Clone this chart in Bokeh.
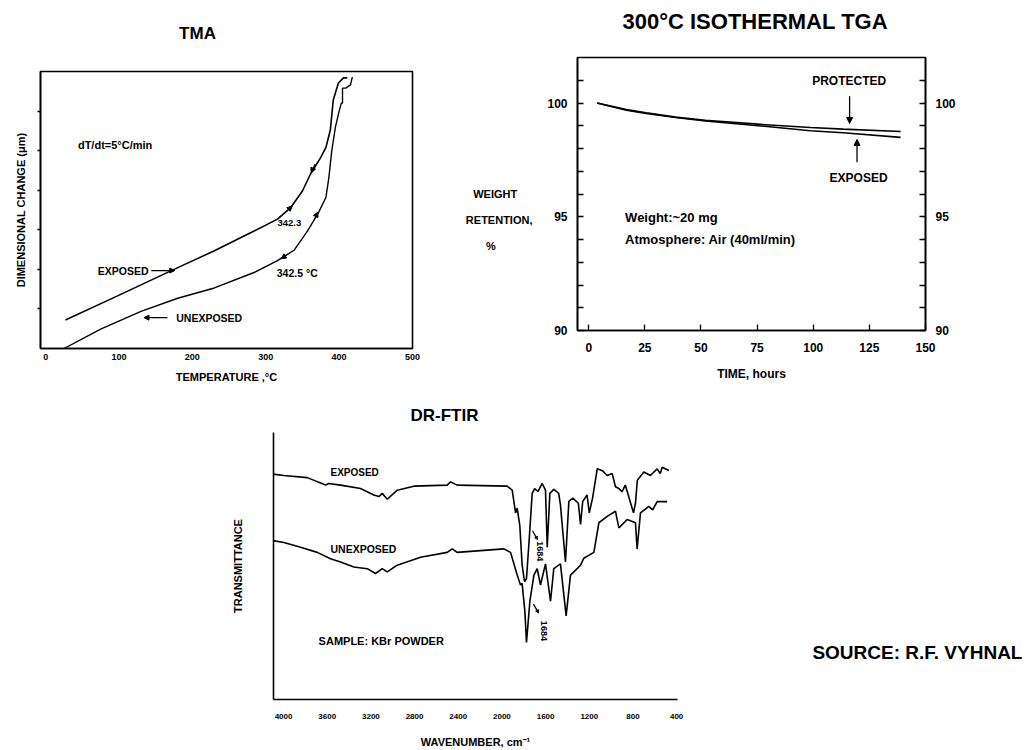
import math
from bokeh.plotting import figure
from bokeh.layouts import column, row
from bokeh.models import (Range1d, LinearAxis, FixedTicker, Label, Arrow,
                          NormalHead, Spacer)
from bokeh.embed import file_html
from bokeh.resources import INLINE

FONT = "Liberation Sans"
NB = "\u00a0"

# ---------------- TMA data ----------------
tma_exp_T = [27, 98, 175, 230, 280, 316, 334, 350, 361, 375, 382, 388, 392, 399, 406, 411]
tma_exp_v = [0.72, 1.33, 2.00, 2.47, 2.93, 3.27, 3.56, 3.98, 4.41, 4.83, 5.08, 5.52, 6.28, 6.71, 6.84, 6.84]
tma_unexp_T = [25, 75, 130, 180, 230, 284, 316, 339, 357, 371, 382, 386, 390, 395, 400, 403, 404.6, 404.6, 409, 415.5, 418]
tma_unexp_v = [0.00, 0.49, 0.94, 1.27, 1.53, 1.92, 2.22, 2.49, 2.97, 3.40, 3.82, 4.32, 5.00, 5.60, 6.00, 6.20, 6.20, 6.58, 6.58, 6.66, 6.86]
tma_xticks = [0, 100, 200, 300, 400, 500]
tma_yticks = [1, 2, 3, 4, 5, 6]

# ---------------- TGA data ----------------
tga_prot_t = [3.7, 16.8, 25.6, 38.7, 51.9, 76.8, 98.7, 113.3, 138.9]
tga_prot_w = [100.0, 99.71, 99.57, 99.38, 99.24, 99.06, 98.92, 98.85, 98.75]
tga_exp_t = [3.7, 16.8, 25.6, 38.7, 51.9, 76.8, 98.7, 113.3, 138.9]
tga_exp_w = [100.0, 99.68, 99.54, 99.36, 99.21, 98.99, 98.78, 98.69, 98.49]
tga_xticks = [0, 25, 50, 75, 100, 125, 150]
tga_yticks = [90, 95, 100]
tga_yminor = [91, 92, 93, 94, 96, 97, 98, 99, 101]

# ---------------- FTIR data ----------------
ir_exp_wn = [4135, 3997, 3783, 3615, 3587, 3478, 3295, 3173, 3127, 3096, 3050, 2959, 2807,
             2501, 2471, 2410, 1952, 1906, 1875, 1860, 1836, 1815, 1793, 1775, 1750, 1723,
             1700, 1670, 1631, 1601, 1585, 1561, 1525, 1480, 1464, 1418, 1387, 1350, 1300,
             1280, 1260, 1240, 1220, 1200, 1170, 1127, 1080, 1036, 990, 960, 929, 900, 870,
             795, 777, 760, 700, 640, 578, 550, 532, 471]
ir_exp_T = [84.6, 83.9, 83.1, 80.3, 80.9, 80.3, 79.0, 76.6, 76.0, 77.2, 75.0, 78.4, 79.9,
            80.3, 81.5, 80.3, 79.9, 78.4, 69.9, 71.7, 65.0, 50.4, 44.1, 45.3, 60.0, 77.2,
            79.0, 77.9, 80.9, 78.4, 57.0, 77.2, 78.7, 77.2, 72.9, 51.5, 74.2, 75.4, 73.5,
            65.6, 74.2, 75.4, 76.6, 69.9, 75.4, 86.4, 85.7, 83.9, 84.6, 79.7, 79.0, 77.8, 80.3,
            69.9, 73.5, 82.1, 85.2, 83.9, 86.4, 84.6, 87.0, 85.8]
ir_unexp_wn = [4135, 3997, 3844, 3691, 3570, 3478, 3356, 3234, 3158, 3096, 3050, 2959, 2745,
               2501, 2455, 2410, 1982, 1921, 1860, 1830, 1815, 1790, 1775, 1744, 1707, 1677,
               1647, 1601, 1555, 1525, 1464, 1412, 1372, 1280, 1250, 1158, 1112, 1036, 960,
               929, 853, 777, 762, 731, 655, 620, 578, 487]
ir_unexp_T = [59.8, 58.8, 57.0, 55.1, 52.7, 51.5, 49.6, 49.0, 47.2, 49.0, 47.8, 50.3, 53.3,
              55.1, 56.4, 55.1, 56.4, 55.1, 46.6, 42.9, 43.5, 33.1, 21.4, 36.8, 46.6, 49.0,
              42.9, 50.8, 36.8, 49.0, 50.8, 31.3, 46.6, 50.3, 52.9, 55.1, 66.2, 68.6, 70.5,
              64.3, 67.4, 66.2, 56.4, 69.9, 72.3, 71.0, 74.1, 74.1]
ir_xticks = [4000, 3600, 3200, 2800, 2400, 2000, 1600, 1200, 800, 400]


def lbl(p, x, y, text, size="8px", style="bold", align="left", baseline="middle", angle=0,
        x_offset=0, y_offset=0):
    p.add_layout(Label(x=x, y=y, text=text, text_font=FONT, text_font_size=size,
                       text_font_style=style, text_align=align, text_baseline=baseline,
                       angle=angle, x_offset=x_offset, y_offset=y_offset, text_color="black"))


def arrow(p, x0, y0, x1, y1, size=5, width=1.3):
    p.add_layout(Arrow(end=NormalHead(size=size, fill_color="black", line_color="black"),
                       x_start=x0, y_start=y0, x_end=x1, y_end=y1,
                       line_color="black", line_width=width))


def style_axis(ax, tick_size, label_size):
    ax.axis_line_width = 1.6
    ax.axis_line_color = "black"
    ax.major_tick_line_color = "black"
    ax.minor_tick_line_color = "black"
    ax.major_tick_line_width = 1.3
    ax.minor_tick_line_width = 1.3
    ax.major_label_text_font = FONT
    ax.major_label_text_font_style = "bold"
    ax.major_label_text_font_size = tick_size
    ax.major_label_text_color = "black"
    ax.axis_label_text_font = FONT
    ax.axis_label_text_font_style = "bold"
    ax.axis_label_text_font_size = label_size
    ax.axis_label_text_color = "black"


def blank(p):
    p.axis.visible = False
    p.grid.visible = False
    p.outline_line_color = None


# ================= title strip =================
strip = figure(width=1033, height=45, x_range=Range1d(0, 1033), y_range=Range1d(45, 0),
               output_backend="svg", toolbar_location=None,
               min_border_left=0, min_border_right=0, min_border_top=0, min_border_bottom=0)
blank(strip)
lbl(strip, 197, 33, "TMA", size="17px", align="center")
lbl(strip, 622, 21, "300°C ISOTHERMAL TGA", size="22px", align="left")

# ================= TMA =================
tma = figure(width=430, height=350, x_range=Range1d(-7, 500), y_range=Range1d(0, 7),
             output_backend="svg", toolbar_location=None,
             min_border_left=40, min_border_right=18, min_border_top=26, min_border_bottom=47)
tma.grid.visible = False
tma.outline_line_color = "black"
tma.outline_line_width = 1.6
tma.xaxis.ticker = FixedTicker(ticks=tma_xticks)
tma.yaxis.ticker = FixedTicker(ticks=[], minor_ticks=tma_yticks)
style_axis(tma.xaxis[0], "9px", "11px")
style_axis(tma.yaxis[0], "9px", "11px")
tma.xaxis.major_tick_out = 0
tma.xaxis.major_tick_in = 0
tma.xaxis.minor_tick_line_color = None
tma.xaxis.major_label_standoff = 5
tma.xaxis.axis_label = "TEMPERATURE ,°C"
tma.xaxis.axis_label_standoff = 8
tma.yaxis.minor_tick_out = 3
tma.yaxis.minor_tick_in = 0
tma.yaxis.axis_label = "DIMENSIONAL CHANGE (μm)"
tma.yaxis.axis_label_standoff = 11

tma.line(tma_exp_T, tma_exp_v, line_color="black", line_width=1.6)
tma.line(tma_unexp_T, tma_unexp_v, line_color="black", line_width=1.4)

lbl(tma, 44, 5.14, "dT/dt=5°C/min", size="11px")
lbl(tma, 316, 3.16, "342.3", size="9.5px")
lbl(tma, 315, 1.90, "342.5 °C", size="10.5px")
lbl(tma, 71, 1.97, "EXPOSED", size="10.5px")
arrow(tma, 144, 1.97, 176, 1.97, size=5)
arrow(tma, 166, 0.78, 134, 0.78, size=5)
lbl(tma, 178, 0.78, "UNEXPOSED", size="10.5px")
# direction marks on the curves
arrow(tma, 328, 3.46, 336, 3.60, size=5, width=1)
arrow(tma, 367, 4.66, 362, 4.44, size=5, width=1)
arrow(tma, 366, 3.25, 371, 3.45, size=5, width=1)
arrow(tma, 330, 2.38, 321, 2.27, size=5, width=1)

# ================= TGA =================
tga = figure(width=603, height=350, x_range=Range1d(-5, 150), y_range=Range1d(90, 102),
             output_backend="svg", toolbar_location=None,
             min_border_left=147, min_border_right=108, min_border_top=12, min_border_bottom=65)
tga.grid.visible = False
tga.outline_line_color = "black"
tga.outline_line_width = 1.6
tga.add_layout(LinearAxis(), "right")
tga.xaxis.ticker = FixedTicker(ticks=tga_xticks)
for ax in tga.yaxis:
    ax.ticker = FixedTicker(ticks=tga_yticks, minor_ticks=tga_yminor)
for ax in list(tga.xaxis) + list(tga.yaxis):
    style_axis(ax, "12px", "12px")
    ax.major_tick_out = 0
    ax.major_tick_in = 6
    ax.minor_tick_out = 0
    ax.minor_tick_in = 6
    ax.major_label_standoff = 10
tga.xaxis.minor_tick_line_color = None
tga.xaxis.major_label_standoff = 12
tga.xaxis.axis_label = "TIME, hours"
tga.xaxis.axis_label_standoff = 12
tga.yaxis[0].axis_label = ("\n\nWEIGHT" + NB * 5 + "\nRETENTION,\n%" + NB * 12)
tga.yaxis[0].axis_label_orientation = "horizontal"
tga.yaxis[0].axis_label_text_font_size = "11px"
tga.yaxis[0].axis_label_text_line_height = 2.15
tga.yaxis[0].axis_label_standoff = 12

tga.line(tga_prot_t, tga_prot_w, line_color="black", line_width=1.6)
tga.line(tga_exp_t, tga_exp_w, line_color="black", line_width=1.6)

lbl(tga, 116, 100.96, "PROTECTED", size="12px", align="center")
arrow(tga, 116.2, 100.3, 116.2, 99.1, size=6)
lbl(tga, 120.2, 96.7, "EXPOSED", size="12px", align="center")
arrow(tga, 119.5, 97.4, 119.5, 98.4, size=6)
lbl(tga, 16.2, 94.96, "Weight:~20 mg", size="13px")
lbl(tga, 16.2, 94.0, "Atmosphere: Air (40ml/min)", size="13px")

# ================= FTIR =================
ir = figure(width=500, height=355, x_range=Range1d(4092, 392), y_range=Range1d(0, 100),
            output_backend="svg", toolbar_location=None,
            min_border_left=73, min_border_right=23, min_border_top=33, min_border_bottom=50,
            title="DR-FTIR")
ir.title.text_font = FONT
ir.title.text_font_size = "17px"
ir.title.text_font_style = "bold"
ir.title.text_color = "black"
ir.title.standoff = 16
ir.title.align = "left"
ir.title.offset = 137
ir.grid.visible = False
ir.outline_line_color = None
ir.xaxis.ticker = FixedTicker(ticks=ir_xticks)
ir.yaxis.ticker = FixedTicker(ticks=[])
style_axis(ir.xaxis[0], "8px", "11px")
style_axis(ir.yaxis[0], "8px", "11px")
for ax in (ir.xaxis[0], ir.yaxis[0]):
    ax.major_tick_line_color = None
    ax.minor_tick_line_color = None
ir.xaxis.major_label_standoff = 8
ir.xaxis.axis_label = "WAVENUMBER, cm⁻¹"
ir.xaxis.axis_label_standoff = 14
ir.yaxis.axis_label = "TRANSMITTANCE"
ir.yaxis.axis_label_standoff = 30

ir.line(ir_exp_wn, ir_exp_T, line_color="black", line_width=1.6)
ir.line(ir_unexp_wn, ir_unexp_T, line_color="black", line_width=1.6)

lbl(ir, 3570, 84.9, "EXPOSED", size="10px")
lbl(ir, 3570, 56.3, "UNEXPOSED", size="10.5px")
lbl(ir, 3679, 22.0, "SAMPLE: KBr POWDER", size="11px")
lbl(ir, 1650, 55.5, "1684", size="9px", align="center", angle=-math.pi / 2)
lbl(ir, 1615, 25.7, "1684", size="9px", align="center", angle=-math.pi / 2)
arrow(ir, 1720, 63.2, 1674, 59.9, size=3)
arrow(ir, 1711, 35.7, 1665, 32.4, size=3)

# ================= source note =================
src = figure(width=333, height=355, x_range=Range1d(0, 1), y_range=Range1d(0, 1),
             output_backend="svg", toolbar_location=None,
             min_border_left=0, min_border_right=0, min_border_top=0, min_border_bottom=0)
blank(src)
lbl(src, 0.336, 0.276, "SOURCE: R.F. VYHNAL", size="19px")

layout = column(row(strip),
                row(column(tma), column(tga)),
                row(Spacer(width=200, height=355), column(ir), column(src)))
open("out.html", "w").write(file_html(layout, INLINE))
